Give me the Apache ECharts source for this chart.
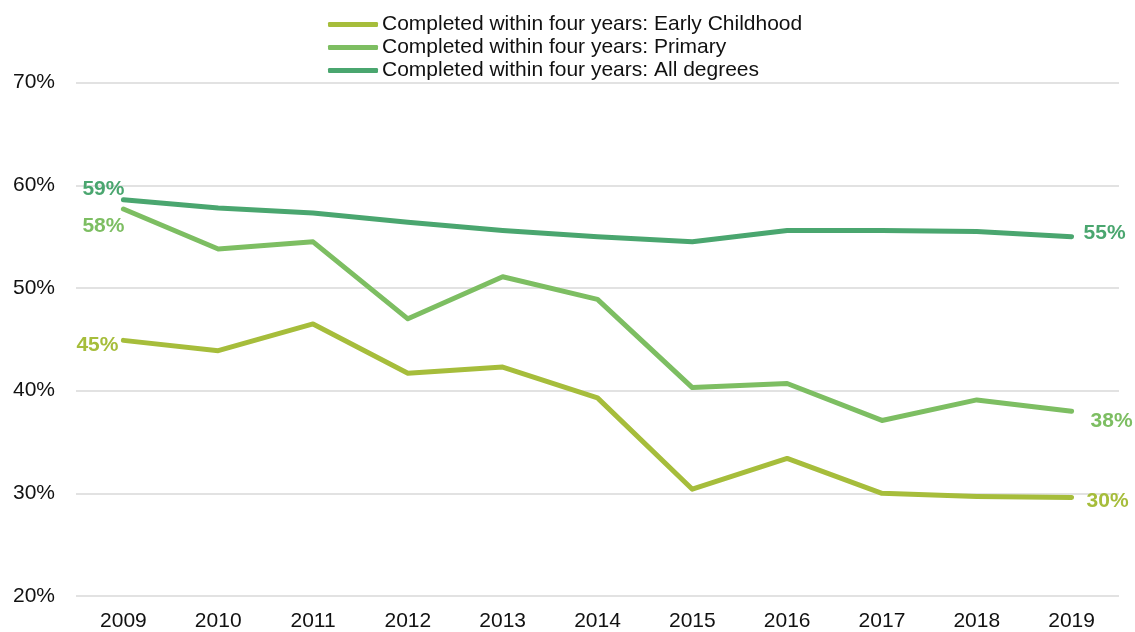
<!DOCTYPE html>
<html>
<head>
<meta charset="utf-8">
<script src="https://cdn.jsdelivr.net/npm/echarts@6/dist/echarts.min.js"></script>
<style>
  html, body { margin: 0; padding: 0; background: #ffffff; }
  #chart { width: 1135px; height: 632px; }
</style>
</head>
<body>
<div id="chart"></div>
<script>
// Share of students completing within four years, by degree
const years = ['2009', '2010', '2011', '2012', '2013', '2014', '2015', '2016', '2017', '2018', '2019'];
const earlyChildhood = [44.9, 43.9, 46.5, 41.7, 42.3, 39.3, 30.4, 33.4, 30.0, 29.7, 29.6];
const primary = [57.7, 53.8, 54.5, 47.0, 51.1, 48.9, 40.3, 40.7, 37.1, 39.1, 38.0];
const allDegrees = [58.6, 57.8, 57.3, 56.4, 55.6, 55.0, 54.5, 55.6, 55.6, 55.5, 55.0];
const seriesNames = [
  'Completed within four years: Early Childhood',
  'Completed within four years: Primary',
  'Completed within four years: All degrees'
];
const colors = ['#a6bd3b', '#7dbe62', '#4aa66f'];

const FONT = 'Liberation Sans, Arial, sans-serif';
const TEXT = '#111111';

// Label only the first and last point of each line; offsets keep them clear of each other
function withEndLabels(values, color, firstOffset, lastOffset) {
  return values.map((v, i) => {
    if (i === 0 || i === values.length - 1) {
      const first = i === 0;
      return {
        value: v,
        label: {
          show: true,
          position: first ? 'left' : 'right',
          distance: first ? firstOffset[0] : lastOffset[0],
          offset: [0, first ? firstOffset[1] : lastOffset[1]],
          formatter: p => Math.round(p.value) + '%',
          color: color,
          fontFamily: FONT,
          fontWeight: 'bold',
          fontSize: 21
        }
      };
    }
    return v;
  });
}

function lineSeries(name, data) {
  return {
    name: name,
    type: 'line',
    data: data,
    symbol: 'circle',
    symbolSize: 0,
    showSymbol: true,
    lineStyle: { width: 5, cap: 'round', join: 'round' },
    emphasis: { disabled: true },
    z: 3
  };
}

const chart = echarts.init(document.getElementById('chart'), null, { renderer: 'canvas' });

chart.setOption({
  animation: false,
  color: colors,
  legend: {
    orient: 'vertical',
    left: 323,
    top: 9,
    icon: 'roundRect',
    itemWidth: 50,
    itemHeight: 5,
    itemGap: 2,
    textStyle: { fontFamily: FONT, fontSize: 21, color: TEXT, padding: [0, 0, 0, -1] },
    data: seriesNames
  },
  grid: { left: 76, right: 16, top: 82.7, bottom: 632 - 597.3 },
  xAxis: {
    type: 'category',
    data: years,
    boundaryGap: true,
    axisLine: { show: false },
    axisTick: { show: false },
    axisLabel: { fontFamily: FONT, fontSize: 21, color: TEXT, margin: 15 }
  },
  yAxis: {
    type: 'value',
    min: 20,
    max: 70,
    interval: 10,
    axisLine: { show: false },
    axisTick: { show: false },
    axisLabel: { fontFamily: FONT, fontSize: 21, color: TEXT, margin: 21, formatter: '{value}%' },
    splitLine: { lineStyle: { color: '#d9d9d9', width: 1.5 } }
  },
  series: [
    lineSeries(seriesNames[0], withEndLabels(earlyChildhood, colors[0], [5, 5], [15, 4])),
    lineSeries(seriesNames[1], withEndLabels(primary, colors[1], [-1, 17], [19, 10])),
    lineSeries(seriesNames[2], withEndLabels(allDegrees, colors[2], [-1, -11], [12, -3]))
  ]
});
</script>
</body>
</html>
